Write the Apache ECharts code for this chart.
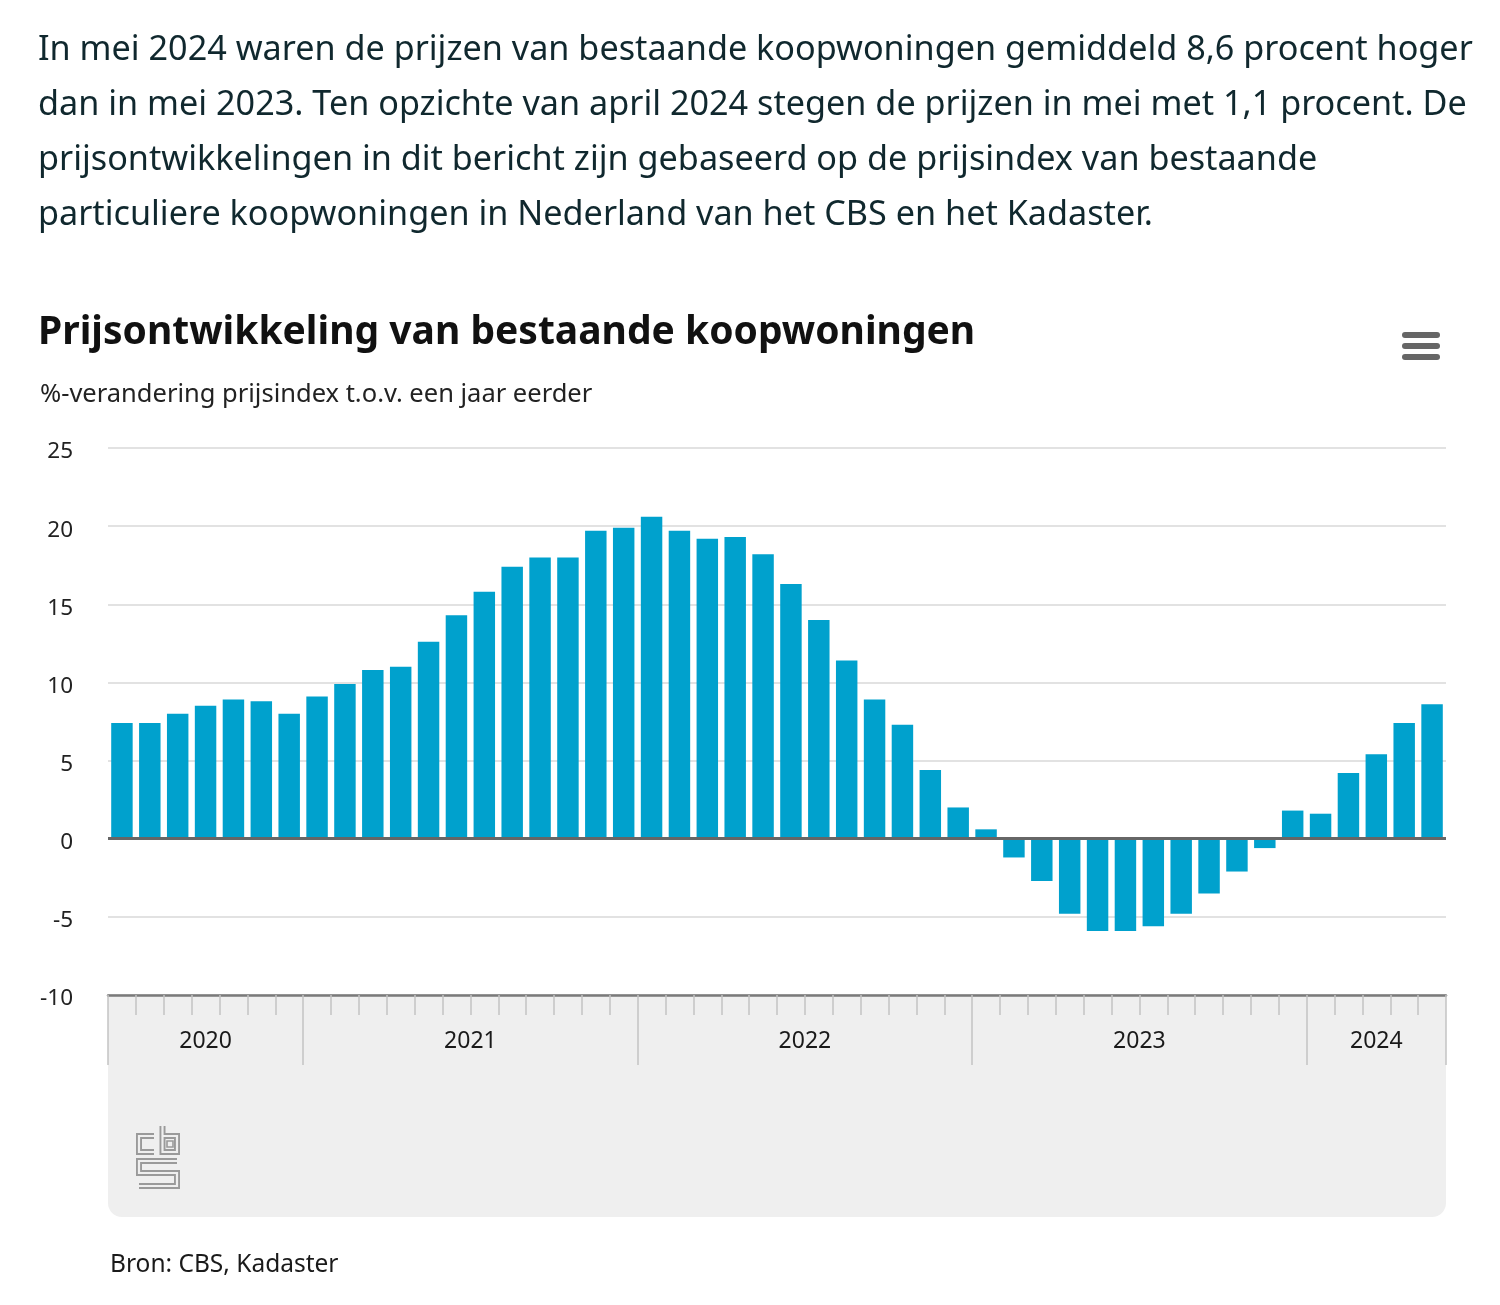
<!DOCTYPE html>
<html>
<head>
<meta charset="utf-8">
<script src="https://cdn.jsdelivr.net/npm/echarts@6/dist/echarts.min.js"></script>
<style>
  html, body { margin: 0; padding: 0; background: #fff; }
  #intro {
    position: absolute; left: 38px; top: 19px;
    font-family: "Noto Sans", sans-serif; font-size: 34.2px; line-height: 55px;
    color: #10282e; white-space: nowrap; z-index: 2;
  }
  #panel {
    position: absolute; left: 108px; top: 996px; width: 1338px; height: 221px;
    background: #efefef; border-radius: 0 0 14px 14px; z-index: 0;
  }
  #myChart { position: absolute; left: 0; top: 0; z-index: 1; }
</style>
</head>
<body>
<div id="intro">
  In mei 2024 waren de prijzen van bestaande koopwoningen gemiddeld 8,6 procent hoger<br>
  dan in mei 2023. Ten opzichte van april 2024 stegen de prijzen in mei met 1,1 procent. De<br>
  prijsontwikkelingen in dit bericht zijn gebaseerd op de prijsindex van bestaande<br>
  particuliere koopwoningen in Nederland van het CBS en het Kadaster.
</div>
<div id="panel"></div>
<div id="myChart" style="width: 1500px; height: 1305px;"></div>
<script>
// maanden juni 2020 t/m mei 2024
var months = [
  "jun 2020", "jul 2020", "aug 2020", "sep 2020", "okt 2020", "nov 2020", "dec 2020",
  "jan 2021", "feb 2021", "mrt 2021", "apr 2021", "mei 2021", "jun 2021",
  "jul 2021", "aug 2021", "sep 2021", "okt 2021", "nov 2021", "dec 2021",
  "jan 2022", "feb 2022", "mrt 2022", "apr 2022", "mei 2022", "jun 2022",
  "jul 2022", "aug 2022", "sep 2022", "okt 2022", "nov 2022", "dec 2022",
  "jan 2023", "feb 2023", "mrt 2023", "apr 2023", "mei 2023", "jun 2023",
  "jul 2023", "aug 2023", "sep 2023", "okt 2023", "nov 2023", "dec 2023",
  "jan 2024", "feb 2024", "mrt 2024", "apr 2024", "mei 2024"
];
// %-verandering t.o.v. een jaar eerder
var change = [
  7.4, 7.4, 8.0, 8.5, 8.9, 8.8, 8.0,
  9.1, 9.9, 10.8, 11.0, 12.6, 14.3, 15.8, 17.4, 18.0, 18.0, 19.7, 19.9,
  20.6, 19.7, 19.2, 19.3, 18.2, 16.3, 14.0, 11.4, 8.9, 7.3, 4.4, 2.0,
  0.6, -1.2, -2.7, -4.8, -5.9, -5.9, -5.6, -4.8, -3.5, -2.1, -0.6, 1.8,
  1.6, 4.2, 5.4, 7.4, 8.6
];
var yearLabels = ["2020", "2021", "2022", "2023", "2024"];
var yearCenters = [3.5, 13, 25, 37, 45.5];   // in maand-index
var yearBounds = [0, 7, 19, 31, 43, 48];

var font = '"Noto Sans", sans-serif';
var logoOuter = { stroke: "#9a9a9a", lineWidth: 6, fill: null, lineJoin: "miter" };
var logoInner = { stroke: "#efefef", lineWidth: 2.2, fill: null, lineJoin: "miter" };
var cPath = [[17, 11], [2, 11], [2, 27], [17, 27]];
var bPath = [[25.5, 1], [25.5, 27], [40, 27], [40, 11], [25.5, 11]];
var sPath = [[40, 36], [2, 36], [2, 48], [40, 48], [40, 61], [2, 61]];

function logoPart(pts) {
  return [
    { type: "polyline", shape: { points: pts }, style: logoOuter, z: 1 },
    { type: "polyline", shape: { points: pts }, style: logoInner, z: 2 }
  ];
}

var option = {
  animation: false,
  title: [
    {
      text: "Prijsontwikkeling van bestaande koopwoningen",
      left: 38, top: 313, padding: 0,
      textStyle: { fontFamily: font, fontSize: 39, fontWeight: "bold", color: "#111" }
    },
    {
      text: "%-verandering prijsindex t.o.v. een jaar eerder",
      left: 40, top: 382, padding: 0,
      textStyle: { fontFamily: font, fontSize: 25.5, fontWeight: "normal", color: "#222" }
    },
    {
      text: "Bron: CBS, Kadaster",
      left: 110, top: 1253, padding: 0,
      textStyle: { fontFamily: font, fontSize: 24.5, fontWeight: "normal", color: "#1a1a1a" }
    }
  ],
  graphic: [
    { type: "rect", shape: { x: 1402, y: 332, width: 38, height: 6, r: 3 }, style: { fill: "#666" } },
    { type: "rect", shape: { x: 1402, y: 343, width: 38, height: 6, r: 3 }, style: { fill: "#666" } },
    { type: "rect", shape: { x: 1402, y: 354, width: 38, height: 6, r: 3 }, style: { fill: "#666" } },
    {
      type: "group", x: 137, y: 1125,
      children: [].concat(logoPart(cPath), logoPart(bPath), logoPart(sPath), [
        { type: "rect", shape: { x: 30, y: 16, width: 6, height: 6 }, style: { stroke: "#9a9a9a", lineWidth: 1.6, fill: null } }
      ])
    }
  ],
  grid: { left: 108, right: 54, top: 448, bottom: 310, outerBoundsMode: "none" },
  xAxis: [
    {
      type: "category",
      data: months,
      axisLine: { onZero: false, lineStyle: { color: "#7a7a7a", width: 2.5 } },
      axisTick: { show: true, interval: 0, length: 20, lineStyle: { color: "#c4c4c4", width: 1.5 } },
      axisLabel: { show: false }
    },
    {
      type: "value",
      position: "bottom",
      min: 0, max: 48,
      axisLine: { show: false, onZero: false },
      splitLine: { show: false },
      axisTick: { show: true, customValues: yearBounds, length: 70, lineStyle: { color: "#c4c4c4", width: 1.5 } },
      axisLabel: {
        customValues: yearCenters,
        margin: 35,
        fontFamily: font, fontSize: 23, color: "#1a1a1a",
        formatter: function (v) {
          var i = yearCenters.indexOf(v);
          return i >= 0 ? yearLabels[i] : "";
        }
      }
    }
  ],
  yAxis: {
    type: "value",
    min: -10, max: 25, interval: 5,
    axisLine: { show: false },
    axisTick: { show: false },
    axisLabel: {
      margin: 35, fontFamily: font, fontSize: 22.5, color: "#222",
      verticalAlign: "top", lineHeight: 8
    },
    splitLine: { lineStyle: { color: "#d9d9d9", width: 1.5 } }
  },
  series: [
    {
      name: "%-verandering",
      type: "bar",
      data: change,
      barCategoryGap: "23%",
      itemStyle: { color: "#00a1cd" },
      markLine: {
        silent: true,
        symbol: "none",
        label: { show: false },
        lineStyle: { color: "#666", width: 3, type: "solid" },
        data: [{ yAxis: 0 }]
      }
    }
  ]
};

var myChart = echarts.init(document.getElementById("myChart"));
myChart.setOption(option);
</script>
</body>
</html>
